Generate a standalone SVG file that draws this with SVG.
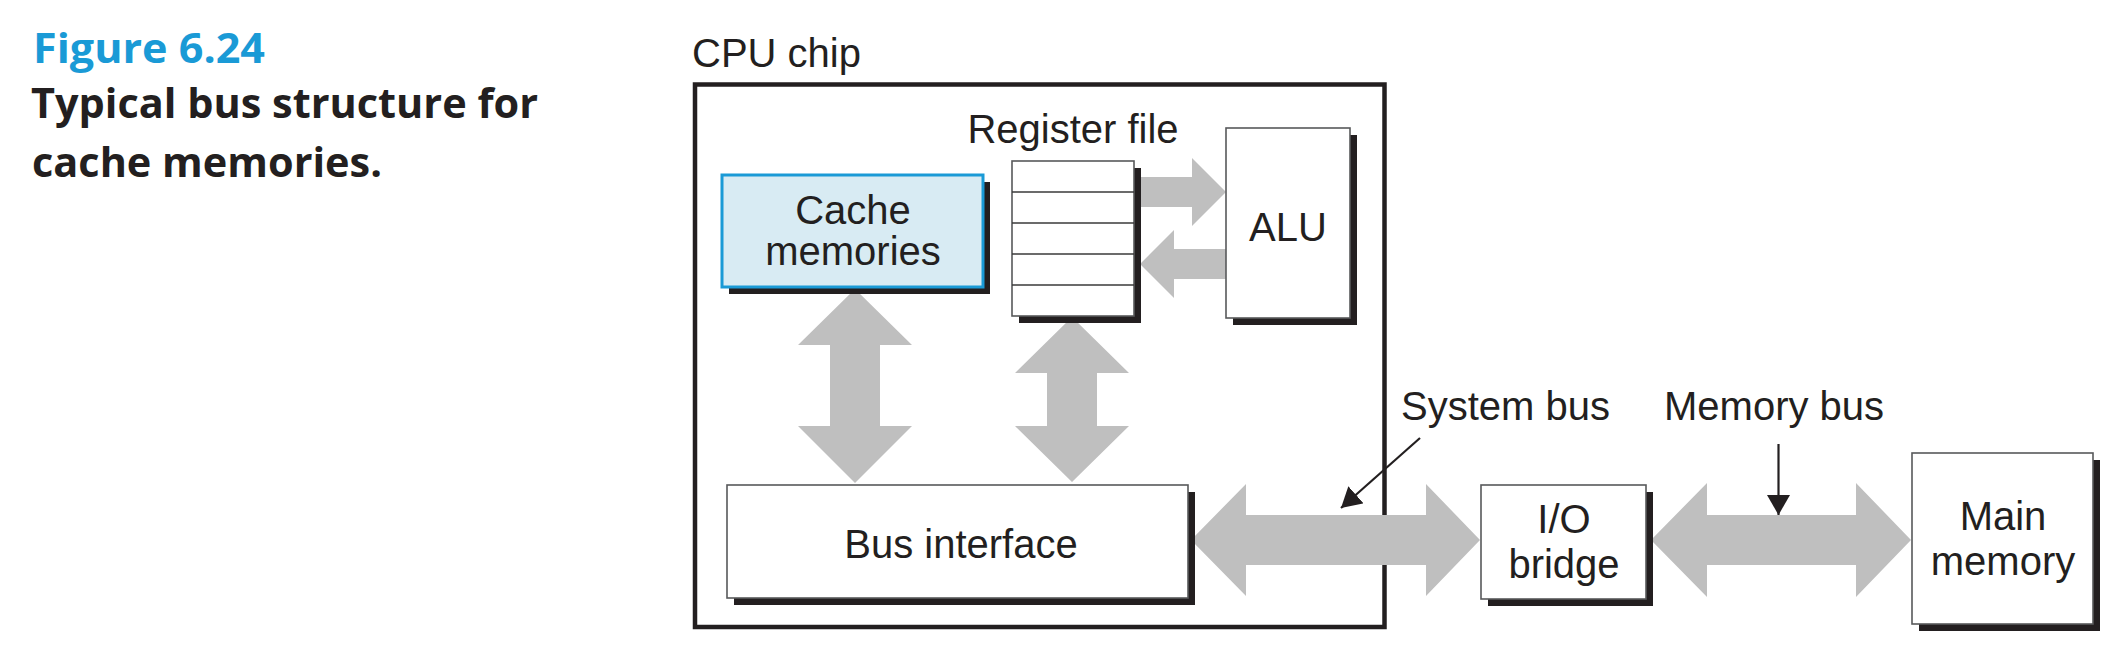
<svg xmlns="http://www.w3.org/2000/svg" width="2124" height="662" viewBox="0 0 2124 662">
<style>
.title{font-family:"Open Sans","Noto Sans","DejaVu Sans",sans-serif;font-weight:bold;font-size:42px}
.lbl{font-family:"Liberation Sans",Arial,sans-serif;font-size:40px;fill:#231f20}
.box{fill:#ffffff;stroke:#58595b;stroke-width:1.6}
.shadow{fill:#231f20}
.bus{fill:#bfbfbf}
.ptr{stroke:#231f20;stroke-width:2.2;fill:none}
.row{stroke:#3a3a3a;stroke-width:1.6}
</style>
<defs>
<marker id="head" markerUnits="userSpaceOnUse" markerWidth="20" markerHeight="23" viewBox="0 0 20 23" refX="20" refY="11.5" orient="auto">
<path d="M0,0 L20,11.5 L0,23 Z" fill="#231f20"/>
</marker>
</defs>

<g id="caption">
<text class="title" x="33" y="63" fill="#1a9ad6" textLength="232" lengthAdjust="spacingAndGlyphs">Figure 6.24</text>
<text class="title" x="31" y="118" fill="#231f20" textLength="507" lengthAdjust="spacingAndGlyphs">Typical bus structure for</text>
<text class="title" x="32" y="177" fill="#231f20" textLength="350" lengthAdjust="spacingAndGlyphs">cache memories.</text>
</g>

<g id="cpu-chip">
<text class="lbl" x="692" y="67">CPU chip</text>
<rect x="695" y="84.5" width="689.5" height="542.5" fill="none" stroke="#231f20" stroke-width="4.5"/>
</g>

<g id="connectors">
<polygon class="bus" points="855,289 912,345 880,345 880,426 912,426 855,483 798,426 830,426 830,345 798,345"/>
<polygon class="bus" points="1072,317 1129,373 1097,373 1097,426 1129,426 1072,482 1015,426 1047,426 1047,373 1015,373"/>
<polygon class="bus" points="1130,177 1192,177 1192,158 1226,192 1192,226 1192,207 1130,207"/>
<polygon class="bus" points="1140,264 1174,230 1174,249 1230,249 1230,279 1174,279 1174,298"/>
<polygon class="bus" points="1191,540 1246,484 1246,515 1426,515 1426,484 1480,540 1426,596 1426,565 1246,565 1246,596"/>
<polygon class="bus" points="1651,540 1707,483 1707,515 1856,515 1856,483 1911,540 1856,597 1856,565 1707,565 1707,597"/>
<line class="ptr" x1="1420" y1="438" x2="1341" y2="508" marker-end="url(#head)"/>
<line class="ptr" x1="1778.5" y1="444" x2="1778.5" y2="515" marker-end="url(#head)"/>
</g>

<g id="cache-memories">
<rect class="shadow" x="729" y="182" width="261" height="112"/>
<rect x="722" y="175" width="261" height="112" fill="#d8ebf3" stroke="#1a9ad6" stroke-width="3"/>
<text class="lbl" x="853" y="224" text-anchor="middle">Cache</text>
<text class="lbl" x="853" y="265" text-anchor="middle">memories</text>
</g>

<g id="register-file">
<text class="lbl" x="1073" y="143" text-anchor="middle">Register file</text>
<rect class="shadow" x="1019" y="168" width="122" height="155"/>
<rect class="box" x="1012" y="161" width="122" height="155"/>
<line class="row" x1="1012" y1="192" x2="1134" y2="192"/>
<line class="row" x1="1012" y1="223" x2="1134" y2="223"/>
<line class="row" x1="1012" y1="254" x2="1134" y2="254"/>
<line class="row" x1="1012" y1="285" x2="1134" y2="285"/>
</g>

<g id="alu">
<rect class="shadow" x="1233" y="135" width="124" height="190"/>
<rect class="box" x="1226" y="128" width="124" height="190"/>
<text class="lbl" x="1288" y="241" text-anchor="middle">ALU</text>
</g>

<g id="bus-interface">
<rect class="shadow" x="734" y="492" width="461" height="113"/>
<rect class="box" x="727" y="485" width="461" height="113"/>
<text class="lbl" x="961" y="558" text-anchor="middle">Bus interface</text>
</g>

<g id="io-bridge">
<rect class="shadow" x="1488" y="492" width="165" height="114"/>
<rect class="box" x="1481" y="485" width="165" height="114"/>
<text class="lbl" x="1564" y="533" text-anchor="middle">I/O</text>
<text class="lbl" x="1564" y="578" text-anchor="middle">bridge</text>
</g>

<g id="main-memory">
<rect class="shadow" x="1919" y="460" width="181" height="171"/>
<rect class="box" x="1912" y="453" width="181" height="171"/>
<text class="lbl" x="2003" y="530" text-anchor="middle">Main</text>
<text class="lbl" x="2003" y="575" text-anchor="middle">memory</text>
</g>

<g id="labels">
<text class="lbl" x="1401" y="420">System bus</text>
<text class="lbl" x="1664" y="420">Memory bus</text>
</g>
</svg>
